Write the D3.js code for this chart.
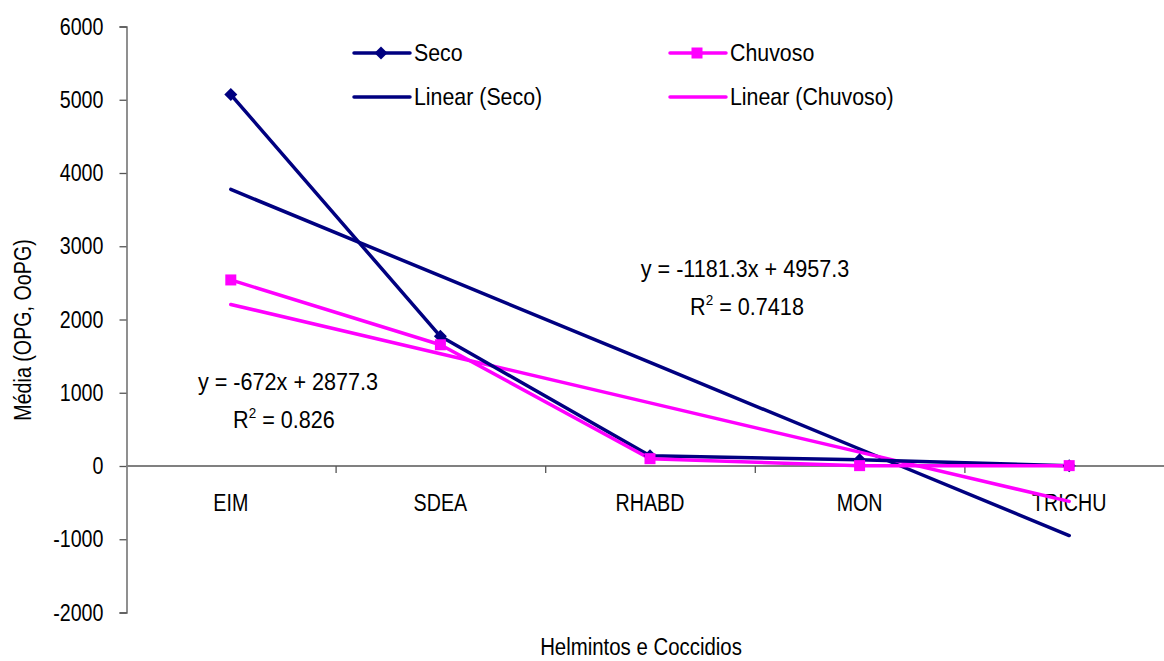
<!DOCTYPE html>
<html>
<head>
<meta charset="utf-8">
<script src="https://cdn.jsdelivr.net/npm/d3@7"></script>
<style>
  html, body { margin: 0; padding: 0; background: #fff; }
  svg { display: block; }
  text { font-family: "Liberation Sans", Arial, sans-serif; fill: #000; }
</style>
</head>
<body>
<svg id="chart" width="1164" height="661"></svg>
<script>
const categories = ["EIM", "SDEA", "RHABD", "MON", "TRICHU"];
const seco = [5070, 1770, 140, 85, 5];
const chuvoso = [2540, 1655, 100, 5, 5];
const trendSeco = { slope: -1181.3, intercept: 4957.3, r2: "0.7418" };
const trendChuvoso = { slope: -672, intercept: 2877.3, r2: "0.826" };
const yTicks = [-2000, -1000, 0, 1000, 2000, 3000, 4000, 5000, 6000];
const yTitle = "Média (OPG, OoPG)";
const xTitle = "Helmintos e Coccidios";

const navy = "#000080", magenta = "#FF00FF";
const svg = d3.select("#chart");
const fs = 24;
const sx = 0.82; // narrow font emulation

function ntext(parent, xp, yp, str, anchor, extra, scaleX) {
  return parent.append("text")
    .attr("transform", `translate(${xp},${yp})${extra || ""} scale(${scaleX || sx},1)`)
    .attr("text-anchor", anchor || "start")
    .style("font-size", fs + "px")
    .text(str);
}

const x = d3.scaleBand().domain(categories).range([126, 126 + 5 * 209.6]);
const cx = c => x(c) + x.bandwidth() / 2;
const y = d3.scaleLinear().domain([-2000, 6000]).range([612.5, 26.5]);

// Y axis
const yAxis = d3.axisLeft(y).tickValues(yTicks).tickSize(7).tickPadding(16).tickFormat(d => String(d));
const gy = svg.append("g").attr("transform", "translate(126.5,0)").call(yAxis);
gy.select(".domain").attr("stroke", "#555").attr("stroke-width", 1.3);
gy.selectAll(".tick line").attr("stroke", "#555").attr("stroke-width", 1.3);
gy.selectAll(".tick text").style("font-size", fs + "px").attr("fill", "#000")
  .style("font-family", '"Liberation Sans", Arial, sans-serif')
  .attr("x", -23 / sx).attr("transform", `scale(${sx},1)`);

// X axis line at zero
const y0 = y(0);
svg.append("line").attr("x1", 126).attr("x2", 1164).attr("y1", y0).attr("y2", y0)
  .attr("stroke", "#808080").attr("stroke-width", 1.8);
svg.append("g").selectAll("line").data(categories.slice(1)).join("line")
  .attr("x1", d => x(d) + 0.5).attr("x2", d => x(d) + 0.5)
  .attr("y1", y0).attr("y2", y0 + 7)
  .attr("stroke", "#555").attr("stroke-width", 1.3);
const gxl = svg.append("g");
categories.forEach(c => ntext(gxl, cx(c), y0 + 45, c, "middle"));

// Trend lines
function trendPts(t) {
  return categories.map((c, i) => [cx(c), y(t.slope * (i + 1) + t.intercept)]);
}
const line = d3.line();
svg.append("path").attr("d", line(trendPts(trendSeco))).attr("fill", "none")
  .attr("stroke", navy).attr("stroke-width", 3.5).attr("stroke-linecap", "round");
svg.append("path").attr("d", line(trendPts(trendChuvoso))).attr("fill", "none")
  .attr("stroke", magenta).attr("stroke-width", 3.5).attr("stroke-linecap", "round");

// Data lines
const dataLine = d3.line().x((d, i) => cx(categories[i])).y(d => y(d));
svg.append("path").attr("d", dataLine(seco)).attr("fill", "none")
  .attr("stroke", navy).attr("stroke-width", 3.5).attr("stroke-linejoin", "round");
svg.append("path").attr("d", dataLine(chuvoso)).attr("fill", "none")
  .attr("stroke", magenta).attr("stroke-width", 3.5).attr("stroke-linejoin", "round");

const diamond = "M0,-6.5L6.5,0L0,6.5L-6.5,0Z";
svg.append("g").selectAll("path").data(seco).join("path")
  .attr("d", diamond).attr("fill", navy)
  .attr("transform", (d, i) => `translate(${cx(categories[i])},${y(d)})`);
svg.append("g").selectAll("rect").data(chuvoso).join("rect")
  .attr("x", (d, i) => cx(categories[i]) - 5.5).attr("y", d => y(d) - 5.5)
  .attr("width", 11).attr("height", 11).attr("fill", magenta);

// Equations
function eqLabel(t, xc, yb, xc2, yb2) {
  ntext(svg, xc, yb, `y = ${t.slope}x + ${t.intercept}`, "middle", "", 0.9);
  const tx = ntext(svg, xc2, yb2, "", "middle", "", 0.9);
  tx.append("tspan").text("R");
  tx.append("tspan").attr("dy", -10).style("font-size", "15px").text("2");
  tx.append("tspan").attr("dy", 10).text(` = ${t.r2}`);
}
eqLabel(trendChuvoso, 288, 390, 284, 428);
eqLabel(trendSeco, 745, 277, 747, 315);

// Legend
const legend = [
  { label: "Seco", color: navy, marker: "diamond", lx: 354, ly: 53 },
  { label: "Chuvoso", color: magenta, marker: "square", lx: 670, ly: 53 },
  { label: "Linear (Seco)", color: navy, marker: null, lx: 354, ly: 97 },
  { label: "Linear (Chuvoso)", color: magenta, marker: null, lx: 670, ly: 97 }
];
const lg = svg.append("g");
legend.forEach(d => {
  lg.append("line").attr("x1", d.lx).attr("x2", d.lx + 56).attr("y1", d.ly).attr("y2", d.ly)
    .attr("stroke", d.color).attr("stroke-width", 3.5).attr("stroke-linecap", "round");
  if (d.marker === "diamond") {
    lg.append("path").attr("d", diamond).attr("fill", d.color)
      .attr("transform", `translate(${d.lx + 27},${d.ly})`);
  } else if (d.marker === "square") {
    lg.append("rect").attr("x", d.lx + 27 - 5.5).attr("y", d.ly - 5.5)
      .attr("width", 11).attr("height", 11).attr("fill", d.color);
  }
  ntext(lg, d.lx + 60, d.ly + 8, d.label, "start", "", 0.89);
});

// Axis titles
ntext(svg, 641, 655, xTitle, "middle", "", 0.85);
ntext(svg, 31, 330, yTitle, "middle", " rotate(-90)");
</script>
</body>
</html>
